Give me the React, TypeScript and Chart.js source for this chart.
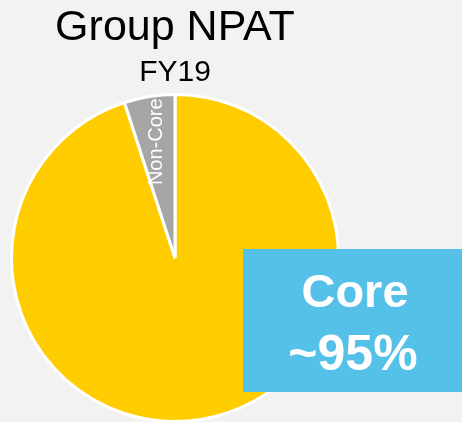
import React, { useEffect, useRef } from "react";
import { Chart, registerables } from "chart.js";

Chart.register(...registerables);

const categories = ["Core", "Non-Core"];
const values = [95, 5];
const colors = ["#ffcc00", "#a6a6a6"];
const titleText = "Group NPAT";
const subtitleText = "FY19";
const calloutLines = ["Core", "~95%"];

const FONT = "'Liberation Sans', Arial, sans-serif";

const overlayPlugin = {
  id: "overlay",
  beforeDraw(chart: any) {
    const ctx = chart.ctx;
    ctx.save();
    ctx.fillStyle = "#f2f2f2";
    ctx.fillRect(0, 0, chart.width, chart.height);
    ctx.restore();
  },
  afterDatasetsDraw(chart: any) {
    const ctx = chart.ctx;
    const meta = chart.getDatasetMeta(0);
    const arc = meta.data[1];
    if (arc) {
      const p = arc.getProps(["x", "y", "startAngle", "endAngle", "outerRadius"], true);
      const mid = (p.startAngle + p.endAngle) / 2;
      const r = p.outerRadius * 0.72;
      const x = p.x + Math.cos(mid) * r;
      const y = p.y + Math.sin(mid) * r;
      ctx.save();
      ctx.translate(x, y);
      ctx.rotate(-Math.PI / 2);
      ctx.fillStyle = "#ffffff";
      ctx.font = `20px ${FONT}`;
      ctx.textAlign = "center";
      ctx.textBaseline = "middle";
      ctx.fillText(categories[1], 0, 0);
      ctx.restore();
    }
  },
  afterDraw(chart: any) {
    const ctx = chart.ctx;
    ctx.save();
    ctx.fillStyle = "#000000";
    ctx.textAlign = "center";
    ctx.textBaseline = "alphabetic";
    ctx.font = `43px ${FONT}`;
    ctx.fillText(titleText, 175, 40);
    ctx.font = `30px ${FONT}`;
    ctx.fillText(subtitleText, 175, 81);
    ctx.fillStyle = "#56c1e8";
    ctx.fillRect(243, 249, 230, 143);
    ctx.fillStyle = "#ffffff";
    ctx.font = `bold 47px ${FONT}`;
    ctx.fillText(calloutLines[0], 355, 307);
    ctx.font = `bold 50px ${FONT}`;
    ctx.fillText(calloutLines[1], 353, 370);
    ctx.restore();
  },
};

export default function App() {
  const ref = useRef<HTMLCanvasElement | null>(null);
  useEffect(() => {
    document.body.style.margin = "0";
    document.body.style.background = "#f2f2f2";
    if (!ref.current) return;
    const chart = new Chart(ref.current, {
      type: "pie",
      data: {
        labels: categories,
        datasets: [
          {
            data: values,
            backgroundColor: colors,
            borderColor: "#ffffff",
            borderWidth: 3,
            hoverOffset: 0,
          },
        ],
      },
      options: {
        animation: false,
        responsive: false,
        radius: 163.5,
        layout: { padding: { left: 10, right: 122, top: 94, bottom: 0 } },
        plugins: {
          legend: { display: false },
          title: { display: false },
          tooltip: { enabled: false },
        },
      },
      plugins: [overlayPlugin],
    });
    return () => chart.destroy();
  }, []);
  return (
    <div style={{ width: 462, height: 422, background: "#f2f2f2" }}>
      <canvas ref={ref} width={462} height={422} style={{ display: "block" }} />
    </div>
  );
}
